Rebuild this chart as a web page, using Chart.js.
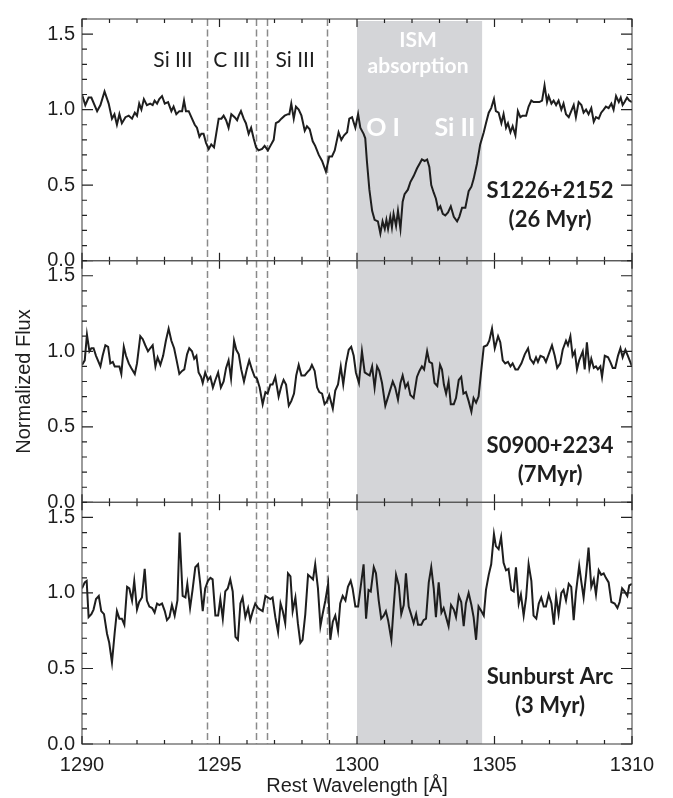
<!DOCTYPE html>
<html>
<head>
<meta charset="utf-8">
<title>Normalized Flux – Rest Wavelength</title>
<script src="https://cdn.jsdelivr.net/npm/chart.js@4/dist/chart.umd.min.js"></script>
<style>
  html, body { margin: 0; padding: 0; background: #fff; }
  #wrap { position: relative; width: 673px; height: 798px; }
</style>
</head>
<body>
<div id="wrap"><canvas id="spectra" width="673" height="798"></canvas></div>
<script>
// Rest wavelength [Å] and normalized flux, one pair per panel
const waveA = [1290.00,1290.12,1290.24,1290.34,1290.55,1290.67,1290.82,1290.97,1291.09,1291.18,1291.27,1291.36,1291.45,1291.58,1291.70,1291.82,1291.92,1292.00,1292.08,1292.16,1292.25,1292.36,1292.48,1292.57,1292.64,1292.73,1292.81,1292.91,1293.01,1293.13,1293.25,1293.33,1293.43,1293.54,1293.64,1293.71,1293.78,1293.88,1294.00,1294.10,1294.18,1294.27,1294.34,1294.42,1294.51,1294.61,1294.70,1294.80,1294.88,1294.97,1295.07,1295.15,1295.24,1295.33,1295.43,1295.55,1295.64,1295.70,1295.78,1295.88,1295.96,1296.06,1296.15,1296.24,1296.33,1296.42,1296.55,1296.64,1296.76,1296.85,1296.97,1297.05,1297.15,1297.25,1297.37,1297.49,1297.54,1297.61,1297.70,1297.78,1297.88,1297.98,1298.10,1298.18,1298.28,1298.39,1298.48,1298.61,1298.73,1298.87,1298.99,1299.09,1299.19,1299.33,1299.43,1299.53,1299.64,1299.72,1299.82,1299.94,1300.04,1300.12,1300.24,1300.30,1300.36,1300.45,1300.55,1300.64,1300.76,1300.85,1300.93,1301.01,1301.07,1301.13,1301.21,1301.27,1301.33,1301.42,1301.49,1301.58,1301.66,1301.73,1301.85,1301.94,1302.06,1302.18,1302.30,1302.36,1302.46,1302.55,1302.63,1302.70,1302.79,1302.87,1302.95,1303.03,1303.12,1303.21,1303.31,1303.41,1303.52,1303.64,1303.72,1303.82,1303.94,1304.06,1304.16,1304.24,1304.36,1304.48,1304.61,1304.69,1304.79,1304.88,1304.98,1305.05,1305.15,1305.25,1305.33,1305.42,1305.49,1305.58,1305.66,1305.76,1305.85,1305.94,1306.02,1306.15,1306.24,1306.34,1306.42,1306.55,1306.63,1306.73,1306.82,1306.91,1306.97,1307.07,1307.15,1307.24,1307.33,1307.43,1307.51,1307.60,1307.70,1307.79,1307.88,1307.96,1308.06,1308.16,1308.24,1308.33,1308.42,1308.52,1308.61,1308.69,1308.79,1308.88,1308.97,1309.05,1309.15,1309.25,1309.33,1309.42,1309.52,1309.59,1309.66,1309.73,1309.82,1309.90,1310.00];
const fluxA = [1.10,1.03,1.08,1.08,0.99,1.03,1.12,1.04,0.94,0.97,0.90,0.97,0.91,0.95,0.96,0.94,0.98,0.96,1.04,1.00,1.07,1.03,1.04,1.03,1.06,1.04,1.07,1.09,1.04,1.05,0.99,1.02,0.97,0.99,0.99,1.06,0.99,0.99,0.94,0.90,0.88,0.82,0.84,0.84,0.78,0.74,0.77,0.75,0.84,0.94,0.94,0.96,0.93,0.88,0.97,0.95,0.93,0.96,0.99,0.94,0.91,0.84,0.88,0.81,0.75,0.73,0.74,0.76,0.73,0.76,0.80,0.91,0.92,0.94,0.96,0.97,0.97,1.04,0.94,1.02,1.00,0.96,0.86,0.89,0.87,0.79,0.76,0.70,0.66,0.59,0.69,0.69,0.73,0.85,0.80,0.83,0.85,0.94,0.95,0.88,0.97,0.88,0.84,0.81,0.66,0.47,0.33,0.27,0.26,0.18,0.26,0.21,0.27,0.21,0.29,0.22,0.31,0.23,0.33,0.21,0.39,0.44,0.47,0.52,0.56,0.61,0.65,0.67,0.66,0.67,0.62,0.50,0.45,0.41,0.34,0.36,0.31,0.30,0.32,0.36,0.29,0.26,0.29,0.35,0.35,0.46,0.49,0.54,0.64,0.77,0.85,0.91,0.98,1.01,1.07,0.99,0.98,0.91,0.97,0.88,0.91,0.85,0.89,0.83,0.99,0.95,0.96,0.96,1.02,1.06,1.05,1.05,1.05,1.06,1.16,1.05,1.09,1.04,1.06,1.03,1.06,1.00,1.04,0.97,0.95,0.99,1.03,0.95,1.05,1.03,0.98,1.00,0.97,1.01,0.92,0.95,0.94,0.98,1.00,1.02,1.01,1.04,1.00,1.09,1.05,1.08,1.03,1.05,1.08,1.06,1.05];

const waveB = [1290.00,1290.10,1290.18,1290.27,1290.34,1290.42,1290.51,1290.67,1290.75,1290.85,1290.95,1291.03,1291.12,1291.19,1291.27,1291.36,1291.43,1291.52,1291.60,1291.70,1291.79,1291.92,1292.00,1292.12,1292.21,1292.30,1292.40,1292.48,1292.57,1292.67,1292.75,1292.85,1292.95,1293.05,1293.15,1293.25,1293.35,1293.43,1293.54,1293.64,1293.72,1293.82,1293.90,1294.00,1294.08,1294.16,1294.24,1294.33,1294.39,1294.48,1294.58,1294.67,1294.76,1294.85,1294.95,1295.05,1295.15,1295.24,1295.33,1295.42,1295.53,1295.61,1295.70,1295.79,1295.89,1295.99,1296.08,1296.18,1296.28,1296.36,1296.46,1296.57,1296.67,1296.75,1296.85,1296.93,1297.03,1297.15,1297.25,1297.33,1297.42,1297.52,1297.61,1297.71,1297.79,1297.88,1297.98,1298.10,1298.19,1298.29,1298.36,1298.46,1298.55,1298.63,1298.73,1298.82,1298.91,1298.99,1299.12,1299.21,1299.31,1299.41,1299.50,1299.60,1299.70,1299.79,1299.88,1299.96,1300.07,1300.18,1300.28,1300.36,1300.46,1300.55,1300.64,1300.73,1300.81,1300.91,1301.03,1301.15,1301.30,1301.39,1301.49,1301.58,1301.66,1301.76,1301.85,1301.94,1302.06,1302.18,1302.27,1302.36,1302.44,1302.55,1302.63,1302.73,1302.82,1302.92,1303.02,1303.09,1303.16,1303.24,1303.33,1303.41,1303.52,1303.60,1303.70,1303.79,1303.87,1303.96,1304.06,1304.16,1304.24,1304.33,1304.42,1304.50,1304.61,1304.73,1304.81,1304.91,1305.01,1305.13,1305.21,1305.30,1305.39,1305.49,1305.58,1305.66,1305.76,1305.85,1305.98,1306.10,1306.22,1306.30,1306.42,1306.51,1306.58,1306.67,1306.79,1306.87,1306.97,1307.09,1307.19,1307.28,1307.39,1307.48,1307.60,1307.67,1307.76,1307.84,1307.92,1308.00,1308.08,1308.21,1308.28,1308.36,1308.45,1308.52,1308.61,1308.69,1308.76,1308.85,1308.91,1309.01,1309.13,1309.21,1309.30,1309.39,1309.49,1309.58,1309.66,1309.76,1309.85,1310.00];
const fluxB = [0.91,0.94,1.11,1.00,1.02,1.02,0.97,0.90,0.97,1.04,1.03,0.92,0.93,0.90,0.90,0.90,0.85,1.03,0.97,0.92,0.89,0.85,0.92,1.10,1.08,1.04,1.00,1.02,1.04,0.90,0.96,0.91,0.97,1.07,1.15,1.07,1.02,0.95,0.85,0.87,0.88,0.98,1.02,1.00,0.95,0.97,0.86,0.83,0.79,0.86,0.81,0.83,0.76,0.81,0.86,0.76,0.80,0.89,0.94,0.82,1.07,1.01,0.98,0.88,0.80,0.88,0.94,0.88,0.83,0.82,0.76,0.65,0.73,0.72,0.78,0.78,0.83,0.70,0.77,0.81,0.78,0.64,0.67,0.72,0.84,0.91,0.84,0.84,0.86,0.88,0.91,0.87,0.76,0.73,0.72,0.65,0.67,0.71,0.62,0.74,0.78,0.90,0.78,0.92,1.01,1.03,0.97,0.86,0.79,1.00,0.86,0.85,0.84,0.90,0.76,0.90,0.87,0.79,0.64,0.71,0.80,0.76,0.68,0.79,0.84,0.76,0.79,0.71,0.69,0.83,0.87,0.90,0.88,1.00,0.93,0.92,0.79,0.77,0.91,0.88,0.78,0.72,0.80,0.65,0.65,0.69,0.81,0.83,0.72,0.73,0.67,0.60,0.69,0.66,0.70,0.84,1.03,1.04,1.07,1.15,1.02,1.10,1.06,0.94,0.92,0.93,0.90,0.92,0.88,0.88,0.92,0.98,1.02,0.95,0.92,0.96,0.93,0.97,0.96,0.93,0.98,1.04,0.97,0.89,0.92,1.01,1.07,1.04,1.10,0.97,1.00,0.88,0.94,1.00,0.88,1.06,0.89,0.95,0.89,0.90,0.88,0.90,0.83,0.97,0.96,0.93,0.89,0.89,0.97,1.02,0.96,1.01,0.97,0.90];

const waveC = [1290.00,1290.10,1290.17,1290.24,1290.34,1290.42,1290.51,1290.61,1290.70,1290.80,1290.91,1290.99,1291.09,1291.19,1291.27,1291.36,1291.45,1291.54,1291.64,1291.72,1291.82,1291.90,1292.00,1292.08,1292.18,1292.28,1292.36,1292.45,1292.55,1292.64,1292.73,1292.81,1292.91,1293.01,1293.09,1293.18,1293.27,1293.37,1293.47,1293.55,1293.66,1293.76,1293.83,1293.93,1294.02,1294.12,1294.22,1294.30,1294.39,1294.48,1294.58,1294.67,1294.75,1294.85,1294.95,1295.03,1295.12,1295.21,1295.30,1295.39,1295.48,1295.58,1295.67,1295.76,1295.84,1295.94,1296.04,1296.12,1296.21,1296.30,1296.40,1296.48,1296.57,1296.67,1296.76,1296.85,1296.93,1297.03,1297.13,1297.22,1297.30,1297.39,1297.49,1297.58,1297.66,1297.76,1297.85,1297.94,1298.02,1298.12,1298.22,1298.34,1298.40,1298.48,1298.58,1298.67,1298.75,1298.85,1298.95,1299.03,1299.12,1299.21,1299.31,1299.39,1299.48,1299.58,1299.67,1299.77,1299.84,1299.94,1300.04,1300.24,1300.33,1300.42,1300.50,1300.61,1300.69,1300.79,1300.88,1300.97,1301.05,1301.13,1301.25,1301.33,1301.42,1301.52,1301.61,1301.70,1301.78,1301.88,1301.98,1302.06,1302.15,1302.22,1302.34,1302.42,1302.51,1302.61,1302.70,1302.79,1302.87,1302.97,1303.07,1303.15,1303.24,1303.33,1303.42,1303.52,1303.60,1303.70,1303.79,1303.88,1303.96,1304.06,1304.16,1304.24,1304.33,1304.42,1304.52,1304.61,1304.69,1304.79,1304.88,1304.98,1305.05,1305.15,1305.24,1305.33,1305.42,1305.51,1305.61,1305.70,1305.78,1305.88,1305.96,1306.06,1306.15,1306.24,1306.34,1306.42,1306.52,1306.61,1306.70,1306.79,1306.87,1306.97,1307.07,1307.16,1307.24,1307.33,1307.43,1307.51,1307.60,1307.70,1307.79,1307.88,1307.96,1308.08,1308.16,1308.24,1308.33,1308.42,1308.52,1308.61,1308.69,1308.79,1308.88,1308.97,1309.05,1309.15,1309.25,1309.37,1309.47,1309.55,1309.64,1309.73,1309.83,1309.90,1310.00];
const fluxC = [1.03,1.07,1.08,0.84,0.86,0.89,0.96,0.98,0.88,0.86,0.73,0.67,0.54,0.74,0.88,0.83,0.83,0.79,1.04,1.03,0.95,1.08,0.89,0.94,0.97,1.16,0.95,0.91,0.90,0.87,0.93,0.92,0.93,0.88,0.82,0.84,0.92,0.85,0.95,1.40,0.98,0.97,1.06,0.90,1.02,1.17,1.19,1.06,0.88,1.03,1.08,1.10,1.09,0.85,0.85,0.96,0.83,1.01,1.03,1.09,1.01,0.71,0.69,0.93,0.97,0.84,0.90,0.82,0.88,0.93,0.90,0.89,0.88,0.98,0.97,0.96,0.97,0.84,0.74,0.93,0.88,0.80,1.13,1.11,0.88,0.97,0.80,0.67,0.69,0.86,1.12,1.10,1.09,1.19,1.03,0.78,0.86,0.95,1.06,0.69,0.81,0.85,0.75,0.93,0.98,0.95,1.04,1.08,1.03,0.91,0.91,1.19,0.83,1.02,1.01,1.17,1.13,0.95,0.83,0.85,0.88,0.82,0.69,0.90,1.12,1.05,0.86,0.92,1.13,0.91,0.85,0.80,0.86,0.79,0.79,0.82,0.83,1.07,1.17,1.03,0.84,1.07,0.87,0.90,0.84,0.78,0.92,0.89,0.84,0.98,0.94,0.78,0.93,1.00,0.92,0.84,0.69,0.91,0.88,0.85,1.02,1.12,1.19,1.39,1.31,1.29,1.37,1.20,1.15,1.16,1.02,1.01,1.17,0.93,0.99,0.85,0.97,1.19,1.08,0.85,0.83,0.93,0.97,0.91,0.91,0.99,0.93,0.79,0.98,0.86,1.00,1.02,0.95,1.06,1.04,0.82,1.00,1.18,1.07,0.97,1.12,1.30,1.04,1.09,0.99,1.15,1.12,1.13,1.10,1.07,0.94,0.93,0.90,0.94,1.03,1.01,0.98,1.05,1.06];

// Line identifications (dashed) and the interstellar absorption window
const lineWaves = [1294.55, 1296.33, 1296.73, 1298.90];
const ismBand = [1300.0, 1304.55];

const xTicks = [1290, 1295, 1300, 1305, 1310];
const yTicks = [0.0, 0.5, 1.0, 1.5];

const sampleNames = ['S1226+2152', 'S0900+2234', 'Sunburst Arc'];
const sampleAges = ['(26 Myr)', '(7Myr)', '(3 Myr)'];

const SANS = "'Liberation Sans', Arial, Helvetica, sans-serif";
const HUMAN = "Lato, 'Open Sans', sans-serif";
const INK = '#1e1e1e';

document.addEventListener('DOMContentLoaded', () => {
  const ctx = document.getElementById('spectra').getContext('2d');

  const toPoints = (w, f) => w.map((x, i) => ({ x: x, y: f[i] }));

  // One panel per source; the three y axes are stacked on top of each other
  const fluxAxis = (withTitle) => ({
    type: 'linear',
    position: 'left',
    stack: 'flux',
    stackWeight: 1,
    min: 0,
    max: 1.6,
    afterBuildTicks: (s) => { s.ticks = yTicks.map(v => ({ value: v })); },
    afterFit: (s) => { s.width = 82; },
    grid: { display: false, drawTicks: false },
    border: { display: false },
    ticks: {
      padding: 7,
      color: INK,
      font: { family: SANS, size: 20 },
      callback: (v) => Number(v).toFixed(1)
    },
    title: {
      display: withTitle,
      text: 'Normalized Flux',
      color: INK,
      font: { family: SANS, size: 20 },
      padding: { top: 12, bottom: 0 }
    }
  });

  // Frames, inward ticks, shaded window, dashed markers and labels
  const panels = {
    id: 'panels',
    beforeDatasetsDraw(chart) {
      const { ctx, chartArea, scales } = chart;
      const x = scales.x;
      ctx.save();
      const b0 = x.getPixelForValue(ismBand[0]);
      const b1 = x.getPixelForValue(ismBand[1]);
      ctx.fillStyle = '#d4d5d8';
      ctx.fillRect(b0, chartArea.top + 2, b1 - b0, chartArea.bottom - chartArea.top - 2);

      ctx.strokeStyle = '#8a8a8a';
      ctx.lineWidth = 1.5;
      ctx.setLineDash([7, 3.5]);
      lineWaves.forEach(w => {
        const px = Math.round(x.getPixelForValue(w)) + 0.5;
        ctx.beginPath();
        ctx.moveTo(px, chartArea.top);
        ctx.lineTo(px, chartArea.bottom);
        ctx.stroke();
      });
      ctx.restore();
    },
    afterDatasetsDraw(chart) {
      const { ctx, chartArea, scales } = chart;
      const x = scales.x;
      const left = chartArea.left, right = chartArea.right;
      ctx.save();
      ['yA', 'yB', 'yC'].forEach((id) => {
        const y = scales[id];
        const top = y.top, bottom = y.bottom;

        ctx.strokeStyle = '#5a5a5a';
        ctx.lineWidth = 1.2;
        ctx.strokeRect(left, top, right - left, bottom - top);

        ctx.strokeStyle = '#222';
        ctx.lineWidth = 1.2;
        ctx.beginPath();
        for (let w = 1290; w <= 1310; w++) {
          const px = x.getPixelForValue(w);
          const len = w % 5 === 0 ? 8 : 4;
          ctx.moveTo(px, top); ctx.lineTo(px, top + len);
          ctx.moveTo(px, bottom); ctx.lineTo(px, bottom - len);
        }
        for (let k = 0; k <= 16; k++) {
          const py = y.getPixelForValue(k / 10);
          const len = k % 5 === 0 ? 11 : 5;
          ctx.moveTo(left, py); ctx.lineTo(left + len, py);
          ctx.moveTo(right, py); ctx.lineTo(right - len, py);
        }
        ctx.stroke();
      });

      const put = (text, w, v, axis, font, color) => {
        ctx.font = font;
        ctx.fillStyle = color;
        ctx.textAlign = 'center';
        ctx.textBaseline = 'middle';
        ctx.fillText(text, x.getPixelForValue(w), scales[axis].getPixelForValue(v));
      };

      // ion labels above the dashed markers
      const ionFont = '21px ' + HUMAN;
      put('Si III', 1293.31, 1.33, 'yA', ionFont, INK);
      put('C III', 1295.45, 1.33, 'yA', ionFont, INK);
      put('Si III', 1297.75, 1.33, 'yA', ionFont, INK);

      // ISM window
      put('ISM', 1302.22, 1.46, 'yA', 'bold 21px ' + HUMAN, '#fff');
      put('absorption', 1302.22, 1.29, 'yA', 'bold 21px ' + HUMAN, '#fff');
      put('O I', 1300.95, 0.88, 'yA', 'bold 25px ' + HUMAN, '#fff');
      put('Si II', 1303.56, 0.88, 'yA', 'bold 25px ' + HUMAN, '#fff');

      // source names and ages
      const nameFont = 'bold 22px ' + HUMAN;
      const nameY = [0.46, 0.375, 0.447];
      const ageY = [0.27, 0.18, 0.25];
      ['yA', 'yB', 'yC'].forEach((id, i) => {
        put(sampleNames[i], 1307.02, nameY[i], id, nameFont, INK);
        put(sampleAges[i], 1307.02, ageY[i], id, nameFont, INK);
      });
      ctx.restore();
    }
  };

  const spectrum = (w, f, axis) => ({
    data: toPoints(w, f),
    yAxisID: axis,
    borderColor: INK,
    borderWidth: 2,
    pointRadius: 0,
    tension: 0,
    fill: false
  });

  new Chart(ctx, {
    type: 'line',
    data: {
      datasets: [
        spectrum(waveA, fluxA, 'yA'),
        spectrum(waveB, fluxB, 'yB'),
        spectrum(waveC, fluxC, 'yC')
      ]
    },
    options: {
      responsive: false,
      animation: false,
      devicePixelRatio: 1,
      layout: { padding: { top: 9, right: 41, left: 0, bottom: 0 } },
      plugins: {
        legend: { display: false },
        tooltip: { enabled: false }
      },
      scales: {
        x: {
          type: 'linear',
          min: 1290,
          max: 1310,
          afterBuildTicks: (s) => { s.ticks = xTicks.map(v => ({ value: v })); },
          afterFit: (s) => { s.height = 54; },
          grid: { display: false, drawTicks: false },
          border: { display: false },
          ticks: {
            padding: 9,
            color: INK,
            maxRotation: 0,
            font: { family: SANS, size: 20 },
            callback: (v) => String(v)
          },
          title: {
            display: true,
            text: 'Rest Wavelength [Å]',
            color: INK,
            font: { family: SANS, size: 20 },
            padding: { top: 0, bottom: 0 }
          }
        },
        // stacked bottom-up in declaration order, so the lowest panel comes first
        yC: fluxAxis(false),
        yB: fluxAxis(true),
        yA: fluxAxis(false)
      }
    },
    plugins: [panels]
  });
});
</script>
</body>
</html>
